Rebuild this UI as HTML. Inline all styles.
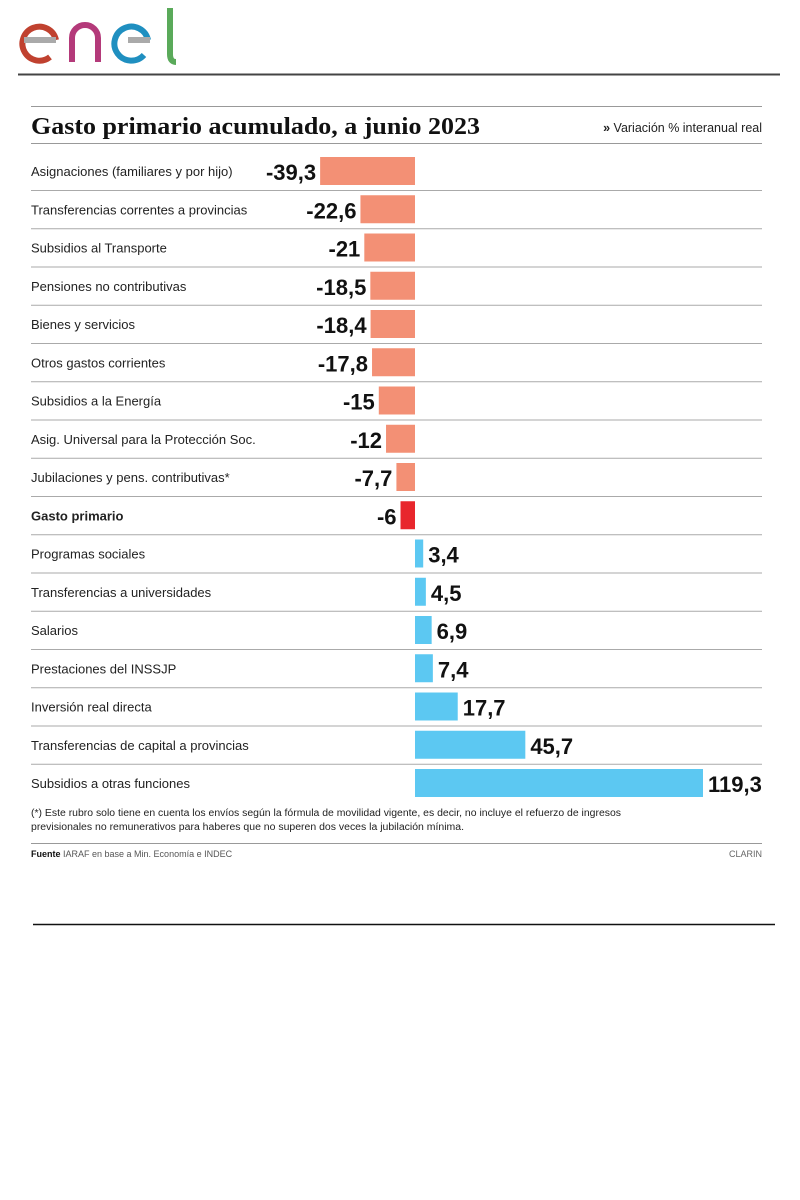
<!DOCTYPE html>
<html><head><meta charset="utf-8"><style>
body{margin:0;width:800px;height:1200px;background:#fff;overflow:hidden;font-family:"Liberation Sans",sans-serif}
svg{display:block}
.ttl{font-family:"Liberation Serif",serif;font-weight:bold}
</style></head><body>
<svg width="800" height="1200">
<g fill="none" stroke-width="6" stroke-linecap="butt">
<path d="M56,40 A17,17 0 1 0 50,57" stroke="#c0412f"/>
<line x1="24" y1="40" x2="56" y2="40" stroke="#aaa"/>
<path d="M72,62 L72,38 A13,13 0 0 1 98,38 L98,62" stroke="#b43a7a"/>
<path d="M144,55 A17,17 0 1 1 148,40" stroke="#1f8fc0"/>
<line x1="128" y1="40" x2="150" y2="40" stroke="#aaa"/>
<path d="M170,8 L170,54 Q170,62 176,62" stroke="#5aaa5a"/>
</g>
<line x1="18" y1="74.5" x2="780" y2="74.5" stroke="#444" stroke-width="2"/>
<line x1="31" y1="106.5" x2="762" y2="106.5" stroke="#999"/>
<text x="31" y="134" class="ttl" font-size="24" fill="#111" textLength="449" lengthAdjust="spacingAndGlyphs">Gasto primario acumulado, a junio 2023</text>
<text x="762" y="132" text-anchor="end" font-size="12.5" fill="#222"><tspan font-weight="bold">»</tspan> Variación % interanual real</text>
<line x1="31" y1="143.5" x2="762" y2="143.5" stroke="#999"/>
<g id="bars"></g>
<text x="31" y="816" font-size="10" fill="#222" textLength="590" lengthAdjust="spacingAndGlyphs">(*) Este rubro solo tiene en cuenta los envíos según la fórmula de movilidad vigente, es decir, no incluye el refuerzo de ingresos</text>
<text x="31" y="830" font-size="10" fill="#222" textLength="433" lengthAdjust="spacingAndGlyphs">previsionales no remunerativos para haberes que no superen dos veces la jubilación mínima.</text>
<line x1="31" y1="843.5" x2="762" y2="843.5" stroke="#999"/>
<text x="31" y="857" font-size="9" fill="#555"><tspan font-weight="bold" fill="#111">Fuente</tspan> IARAF en base a Min. Economía e INDEC</text>
<text x="762" y="857" text-anchor="end" font-size="9" fill="#666">CLARIN</text>
<line x1="33" y1="924.5" x2="775" y2="924.5" stroke="#111" stroke-width="1.5"/>
</svg>
<script>
const categories=["Asignaciones (familiares y por hijo)","Transferencias correntes a provincias","Subsidios al Transporte","Pensiones no contributivas","Bienes y servicios","Otros gastos corrientes","Subsidios a la Energía","Asig. Universal para la Protección Soc.","Jubilaciones y pens. contributivas*","Gasto primario","Programas sociales","Transferencias a universidades","Salarios","Prestaciones del INSSJP","Inversión real directa","Transferencias de capital a provincias","Subsidios a otras funciones"];
const values=[-39.3,-22.6,-21,-18.5,-18.4,-17.8,-15,-12,-7.7,-6,3.4,4.5,6.9,7.4,17.7,45.7,119.3];
const valueLabels=["-39,3","-22,6","-21","-18,5","-18,4","-17,8","-15","-12","-7,7","-6","3,4","4,5","6,9","7,4","17,7","45,7","119,3"];
const highlight="Gasto primario";
const NS="http://www.w3.org/2000/svg";
const g=document.getElementById('bars');
const x0=415, k=288/119.3;
function xs(v){return x0+v*k;}
function yc(i){return 171+i*38.25;}
function mk(t,a){const e=document.createElementNS(NS,t);for(const n in a)e.setAttribute(n,a[n]);g.appendChild(e);return e;}
categories.forEach((c,i)=>{
 const v=values[i],y=yc(i);
 const lab=mk('text',{x:31,y:y+5,'font-size':13,fill:'#222','font-weight':c===highlight?'bold':'normal'});
 
 
 lab.textContent=c;
 const xa=Math.min(xs(v),x0),w=Math.abs(xs(v)-x0);
 const col=c===highlight?'#e8262c':(v<0?'#f39075':'#5cc8f2');
 const r=mk('rect',{x:xa,y:y-14,width:w,height:28,fill:col});
 
 
 const vt=mk('text',{x:v<0?xa-4:xs(v)+5,y:y+9,'font-size':22,'font-weight':'bold',fill:'#111','text-anchor':v<0?'end':'start'});
 
 
 vt.textContent=valueLabels[i];
 if(i<categories.length-1){
  const l=mk('line',{x1:31,x2:762,y1:y+19.5,y2:y+19.5,stroke:'#aaa'});
  
  
 }
});
</script>
</body></html>
